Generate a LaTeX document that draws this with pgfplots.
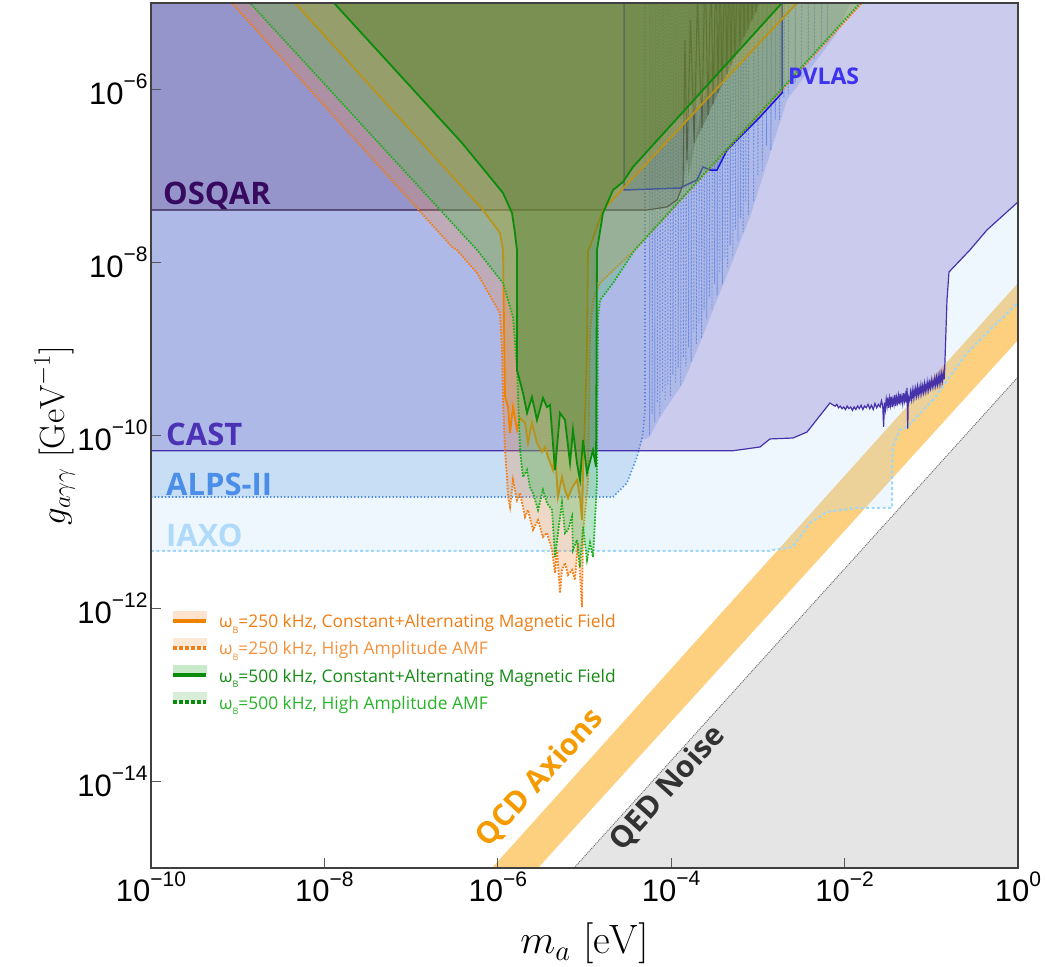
\RequirePackage{fix-cm}
\documentclass[border=0pt]{standalone}
\usepackage{fontspec}
\usepackage{pgfplots}
\usepackage{pgfplotstable}
\pgfplotsset{compat=1.18}
\newfontfamily\tickfont{Liberation Sans}
\newfontfamily\osans{Open Sans}

\definecolor{castc}{RGB}{117,95,199}
\definecolor{castl}{RGB}{70,50,170}
\definecolor{alpsc}{RGB}{111,164,224}
\definecolor{alpsl}{RGB}{74,142,232}
\definecolor{iaxoc}{RGB}{170,215,250}
\definecolor{iaxol}{RGB}{160,215,250}
\definecolor{osqc}{RGB}{60,25,100}
\definecolor{osql}{RGB}{50,30,75}
\definecolor{pvlc}{RGB}{40,60,110}
\definecolor{pvll}{RGB}{20,20,230}
\definecolor{pvlv}{RGB}{60,60,140}
\definecolor{qcdc}{RGB}{253,208,128}
\definecolor{qedc}{RGB}{229,229,229}
\definecolor{odf}{RGB}{240,130,50}
\definecolor{odl}{RGB}{245,125,20}
\definecolor{osf}{RGB}{230,150,20}
\definecolor{osl}{RGB}{240,130,0}
\definecolor{gdf}{RGB}{60,190,80}
\definecolor{gdl}{RGB}{30,175,30}
\definecolor{gsf}{RGB}{60,115,30}
\definecolor{gsl}{RGB}{10,140,10}
\definecolor{tA}{RGB}{240,125,20}
\definecolor{tB}{RGB}{245,145,60}
\definecolor{tC}{RGB}{20,140,20}
\definecolor{tD}{RGB}{40,180,40}
\definecolor{pA}{RGB}{253,226,205}
\definecolor{pB}{RGB}{253,232,214}
\definecolor{pC}{RGB}{200,234,200}
\definecolor{pD}{RGB}{216,238,216}
\definecolor{lOSQAR}{RGB}{55,10,95}
\definecolor{lCAST}{RGB}{75,50,180}
\definecolor{lALPS}{RGB}{74,142,232}
\definecolor{lIAXO}{RGB}{175,218,250}
\definecolor{lPVLAS}{RGB}{60,50,240}
\definecolor{lQCD}{RGB}{245,155,0}
\definecolor{lQED}{RGB}{50,50,50}

\newcommand{\tl}[1]{\mbox{\tickfont\fontsize{31}{31}\selectfont 10\raisebox{0.5em}{\fontsize{21}{21}\selectfont #1}}}
\newcommand{\wb}{ω\raisebox{-0.3em}{\fontsize{9}{9}\selectfont B}}

% all values are log10 of m_a [eV] and g [GeV^-1]
\pgfplotstableread{
x y
-10 -10.176
-3.287 -10.176
-2.976 -10.133
-2.861 -10.040
-2.595 -10.029
-2.434 -9.960
-2.169 -9.624
-2.134 -9.647
-2.11 -9.66
-2.09 -9.64
-2.07 -9.68
-2.05 -9.66
-2.03 -9.69
-2.01 -9.67
-1.99 -9.70
-1.97 -9.66
-1.95 -9.69
-1.93 -9.67
-1.91 -9.71
-1.89 -9.67
-1.87 -9.70
-1.85 -9.66
-1.83 -9.69
-1.81 -9.65
-1.79 -9.70
-1.77 -9.66
-1.75 -9.68
-1.73 -9.64
-1.71 -9.69
-1.69 -9.65
-1.67 -9.70
-1.65 -9.63
-1.63 -9.68
-1.61 -9.64
-1.59 -9.67
-1.575 -9.60
-1.56 -9.66
-1.55 -9.90
-1.54 -9.62
-1.53 -9.70
-1.52 -9.58
-1.51 -9.66
-1.50 -9.56
-1.49 -9.68
-1.48 -9.57
-1.47 -9.65
-1.46 -9.55
-1.45 -9.67
-1.44 -9.58
-1.43 -9.64
-1.42 -9.53
-1.41 -9.66
-1.40 -9.56
-1.39 -9.62
-1.38 -9.54
-1.37 -9.64
-1.36 -9.52
-1.35 -9.61
-1.34 -9.55
-1.33 -9.63
-1.32 -9.51
-1.31 -9.60
-1.30 -9.53
-1.29 -9.62
-1.28 -9.45
-1.272 -9.92
-1.265 -9.55
-1.25 -9.60
-1.24 -9.50
-1.23 -9.58
-1.22 -9.48
-1.21 -9.57
-1.20 -9.47
-1.19 -9.55
-1.18 -9.46
-1.17 -9.54
-1.16 -9.44
-1.15 -9.53
-1.14 -9.45
-1.13 -9.52
-1.12 -9.42
-1.11 -9.51
-1.10 -9.43
-1.09 -9.50
-1.08 -9.40
-1.07 -9.49
-1.06 -9.41
-1.05 -9.48
-1.04 -9.38
-1.03 -9.47
-1.02 -9.39
-1.01 -9.45
-1.00 -9.36
-0.99 -9.44
-0.98 -9.37
-0.97 -9.43
-0.96 -9.34
-0.95 -9.42
-0.94 -9.33
-0.93 -9.41
-0.92 -9.32
-0.91 -9.40
-0.90 -9.30
-0.89 -9.39
-0.88 -9.29
-0.87 -9.37
-0.86 -9.28
-0.85 -9.35
-0.842 -9.127
-0.819 -8.434
-0.796 -8.110
-0.554 -7.855
-0.358 -7.624
0 -7.30
}\cast

\pgfplotstableread{
x y
-10 -11.335
-2.861 -11.335
-2.826 -11.324
-2.595 -11.289
-2.399 -11.012
-2.203 -10.884
-1.857 -10.838
-1.592 -10.838
-1.453 -10.838
-1.453 -10.434
-1.442 -10.133
-1.361 -9.936
-1.280 -9.902
-0.98 -9.59
-0.588 -9.046
-0.288 -8.746
0 -8.468
}\iaxo

\pgfplotstableread{
x y
-10 -10.711
-4.671 -10.711
-4.510 -10.549
-4.394 -10.249
-4.33 -10.05
-4.25 -10.02
-4.129 -9.786
-3.864 -9.393
-3.668 -8.931
-3.472 -8.434
-3.287 -7.971
-3.091 -7.474
-2.664 -6.121
-2.088 -5.347
-1.938 -5.0
}\alps

\pgfplotstableread{
x y
-10 -10.711
-4.671 -10.711
-4.510 -10.549
-4.394 -10.249
-4.33 -10.0
-4.302 -9.7
-4.302 -4.5
}\alpsline

\pgfplotstableread{
x y
-4.25 -4.5
-4.25 -10.00
-4.238 -4.5
-4.22 -4.5
-4.22 -9.75
-4.208 -4.5
-4.19 -4.5
-4.19 -9.85
-4.178 -4.5
-4.16 -4.5
-4.16 -9.62
-4.148 -4.5
-4.13 -4.5
-4.13 -9.78
-4.118 -4.5
-4.10 -4.5
-4.10 -9.50
-4.088 -4.5
-4.07 -4.5
-4.07 -9.60
-4.058 -4.5
-4.04 -4.5
-4.04 -9.42
-4.028 -4.5
-4.01 -4.5
-4.01 -9.55
-3.998 -4.5
-3.98 -4.5
-3.98 -9.30
-3.968 -4.5
-3.95 -4.5
-3.95 -9.40
-3.938 -4.5
-3.92 -4.5
-3.92 -9.22
-3.908 -4.5
-3.89 -4.5
-3.89 -9.43
-3.878 -4.5
-3.86 -4.5
-3.86 -9.10
-3.848 -4.5
-3.83 -4.5
-3.83 -9.20
-3.818 -4.5
-3.80 -4.5
-3.80 -8.98
-3.788 -4.5
-3.77 -4.5
-3.77 -9.15
-3.758 -4.5
-3.74 -4.5
-3.74 -8.80
-3.728 -4.5
-3.71 -4.5
-3.71 -8.95
-3.698 -4.5
-3.68 -4.5
-3.68 -8.70
-3.668 -4.5
-3.65 -4.5
-3.65 -8.88
-3.638 -4.5
-3.62 -4.5
-3.62 -8.55
-3.608 -4.5
-3.59 -4.5
-3.59 -8.65
-3.578 -4.5
-3.56 -4.5
-3.56 -8.40
-3.548 -4.5
-3.53 -4.5
-3.53 -8.55
-3.518 -4.5
-3.50 -4.5
-3.50 -8.25
-3.488 -4.5
-3.47 -4.5
-3.47 -8.38
-3.458 -4.5
-3.44 -4.5
-3.44 -8.12
-3.428 -4.5
-3.41 -4.5
-3.41 -8.25
-3.398 -4.5
-3.38 -4.5
-3.38 -7.95
-3.368 -4.5
-3.35 -4.5
-3.35 -8.05
-3.338 -4.5
-3.32 -4.5
-3.32 -7.80
-3.308 -4.5
-3.29 -4.5
-3.29 -7.95
-3.278 -4.5
-3.26 -4.5
-3.26 -7.62
-3.248 -4.5
-3.23 -4.5
-3.23 -7.75
-3.218 -4.5
-3.20 -4.5
-3.20 -7.48
-3.188 -4.5
-3.17 -4.5
-3.17 -7.65
-3.158 -4.5
-3.14 -4.5
-3.14 -7.30
-3.128 -4.5
-3.11 -4.5
-3.11 -7.45
-3.098 -4.5
-3.05 -4.5
-3.05 -7.30
-3.038 -4.5
-3.00 -4.5
-3.00 -7.00
-2.988 -4.5
-2.95 -4.5
-2.95 -6.95
-2.938 -4.5
-2.90 -4.5
-2.90 -6.65
-2.888 -4.5
-2.85 -4.5
-2.85 -6.70
-2.838 -4.5
-2.80 -4.5
-2.80 -6.35
-2.788 -4.5
-2.75 -4.5
-2.75 -6.35
-2.738 -4.5
-2.70 -4.5
-2.70 -6.10
-2.688 -4.5
-2.65 -4.5
-2.65 -6.05
-2.638 -4.5
-2.57 -4.5
-2.57 -5.92
-2.558 -4.5
-2.50 -4.5
-2.50 -5.85
-2.488 -4.5
-2.42 -4.5
-2.42 -5.70
-2.408 -4.5
-2.35 -4.5
-2.35 -5.65
-2.338 -4.5
-2.27 -4.5
-2.27 -5.50
-2.258 -4.5
-2.20 -4.5
-2.20 -5.45
-2.188 -4.5
}\streaks

\pgfplotstableread{
x y
-10 -7.393
-4.279 -7.393
-4.048 -7.358
-3.933 -7.277
-3.864 -7.104
-3.841 -5.428
-3.818 -6.815
-3.777 -5.197
-3.735 -6.618
-3.697 -4.965
-3.645 -6.445
-3.610 -4.5
-3.575 -6.295
-3.541 -4.5
-3.518 -6.168
-3.483 -4.5
-3.460 -6.040
-3.437 -4.5
-3.414 -5.948
-3.379 -4.5
-3.356 -5.821
-3.333 -4.5
-3.310 -5.717
-3.287 -4.5
-3.264 -5.624
-3.229 -4.5
-3.206 -5.497
-3.183 -4.5
-3.160 -5.393
-3.137 -4.5
-3.114 -5.301
-3.091 -4.5
-3.068 -5.197
-3.045 -4.5
-3.022 -5.104
-2.999 -4.5
}\osqar

\pgfplotstableread{
x y
-10 -7.393
-4.279 -7.393
-4.048 -7.358
-3.933 -7.277
-3.864 -7.104
-3.818 -6.815
-3.735 -6.618
-3.645 -6.445
-3.575 -6.295
-3.518 -6.168
-3.460 -6.040
-3.414 -5.948
-3.356 -5.821
-3.310 -5.717
-3.264 -5.624
-3.206 -5.497
-3.160 -5.393
-3.114 -5.301
-3.068 -5.197
-3.022 -5.104
-2.976 -5.0
-2.976 -4
-10 -4
}\osqarfill

\pgfplotstableread{
x y
-3.80 -7.00
-3.403 -5.0
-2.976 -5.0
-3.022 -5.104
-3.068 -5.197
-3.114 -5.301
-3.160 -5.393
-3.206 -5.497
-3.264 -5.624
-3.310 -5.717
-3.356 -5.821
-3.414 -5.948
-3.460 -6.040
-3.518 -6.168
-3.575 -6.295
-3.645 -6.445
-3.735 -6.618
-3.818 -6.815
}\osqardense

\pgfplotstableread{
x y
-4.544 -4.5
-4.544 -7.162
-3.898 -7.139
-3.702 -7.046
-3.633 -6.896
-3.552 -6.931
-3.472 -6.931
-3.356 -6.699
-3.241 -6.584
-3.126 -6.468
-2.976 -6.318
-2.722 -6.040
-2.722 -4.5
}\pvlas

\pgfplotstableread{
x y
-9.266 -4.778
-9.066 -5.0
-6.517 -7.832
-6.471 -7.855
-6.240 -8.121
-5.975 -8.584
-5.952 -9.012
-5.940 -9.590
-5.917 -10.168
-5.894 -10.480
-5.882 -10.711
-5.859 -10.827
-5.825 -10.514
-5.779 -10.746
-5.744 -10.665
-5.686 -10.942
-5.652 -10.861
-5.594 -11.092
-5.536 -10.977
-5.479 -11.173
-5.433 -11.127
-5.375 -11.324
-5.340 -11.590
-5.317 -11.324
-5.283 -11.821
-5.260 -11.555
-5.225 -11.474
-5.190 -11.613
-5.144 -11.555
-5.110 -11.671
-5.075 -11.243
-5.029 -11.983
-5.017 -11.127
-4.960 -10.549
-4.937 -8.815
-4.902 -8.434
-4.821 -8.237
-4.42 -7.855
-1.80 -5.0
-1.58 -4.756
}\odat

\pgfplotstableread{
x y
-8.539 -4.779
-8.339 -5.0
-6.171 -7.393
-5.975 -7.659
-5.940 -7.855
-5.917 -9.555
-5.882 -9.671
-5.859 -9.971
-5.825 -9.671
-5.779 -9.936
-5.744 -9.798
-5.686 -9.855
-5.652 -10.087
-5.606 -9.855
-5.548 -10.087
-5.490 -10.191
-5.456 -10.133
-5.421 -10.249
-5.363 -10.399
-5.340 -10.202
-5.306 -10.711
-5.260 -10.480
-5.225 -10.630
-5.190 -10.723
-5.144 -10.607
-5.087 -10.514
-5.052 -10.711
-5.029 -10.977
-5.017 -10.434
-4.994 -9.786
-4.971 -9.012
-4.960 -7.855
-4.937 -7.821
-4.787 -7.393
-2.549 -5.0
-2.349 -4.786
}\osdat

\pgfplotstableread{
x y
-9.058 -4.782
-8.858 -5.0
-6.240 -7.855
-5.940 -8.237
-5.825 -8.630
-5.779 -9.208
-5.744 -10.168
-5.709 -10.480
-5.663 -10.399
-5.629 -10.595
-5.594 -10.665
-5.536 -10.861
-5.479 -10.630
-5.433 -10.780
-5.375 -10.861
-5.340 -11.405
-5.306 -11.127
-5.260 -10.780
-5.225 -11.127
-5.190 -11.092
-5.144 -10.942
-5.133 -11.324
-5.087 -11.208
-5.052 -11.520
-5.017 -11.058
-4.971 -11.439
-4.937 -11.243
-4.902 -11.405
-4.856 -10.549
-4.844 -8.630
-4.821 -8.434
-4.671 -8.237
-4.42 -7.855
-1.822 -5.0
-1.60 -4.756
}\gddat

\pgfplotstableread{
x y
-8.089 -4.781
-7.889 -5.0
-6.413 -6.618
-6.090 -7.012
-5.940 -7.197
-5.836 -7.428
-5.802 -7.659
-5.779 -7.855
-5.779 -9.243
-5.709 -9.509
-5.663 -9.740
-5.606 -9.555
-5.548 -9.821
-5.479 -9.566
-5.433 -9.671
-5.398 -9.647
-5.340 -10.399
-5.283 -9.740
-5.225 -9.821
-5.167 -10.318
-5.133 -9.936
-5.087 -10.318
-5.052 -10.514
-5.017 -10.052
-4.971 -10.434
-4.902 -10.168
-4.867 -10.364
-4.856 -7.855
-4.787 -7.428
-4.671 -7.162
-4.556 -7.069
-4.441 -6.896
-2.722 -5.0
-2.5 -4.755
}\gsdat

\begin{document}
\begin{tikzpicture}
\path[use as bounding box] (-151pt,-98pt) rectangle (895pt,868pt);
\begin{axis}[
    at={(0,0)}, anchor=south west,
    scale only axis, width=867pt, height=865pt,
    xmin=-10, xmax=0, ymin=-15, ymax=-5,
    xtick={-10,-8,-6,-4,-2,0},
    xticklabels={\tl{−10},\tl{−8},\tl{−6},\tl{−4},\tl{−2},\tl{0}},
    ytick={-14,-12,-10,-8,-6},
    yticklabels={\tl{−14},\tl{−12},\tl{−10},\tl{−8},\tl{−6}},
    xtick pos=bottom, ytick pos=left,
    tick align=inside, major tick length=10pt,
    tick style={line width=1pt, black!65},
    axis line style={line width=1.3pt, black!75},
    axis on top,
    xlabel={$m_a\ [\mathrm{eV}]$},
    ylabel={$g_{a\gamma\gamma}\ [\mathrm{GeV}^{-1}]$},
    label style={inner sep=0pt},
    xlabel style={font=\fontsize{41}{41}\selectfont, at={(axis description cs:0.5,0)}, anchor=north, yshift=-55pt},
    ylabel style={font=\fontsize{35}{35}\selectfont, at={(axis description cs:0,0.5)}, anchor=south, yshift=76pt},
    legend style={at={(axis cs:-9.77,-12.025)}, anchor=north west, draw=none,
        fill=none, font=\osans\fontsize{17.4}{21}\selectfont, row sep=6.5pt,
        inner sep=0pt, /tikz/every odd column/.append style={column sep=9pt}},
    legend cell align=left,
]
% QED noise
\addplot[forget plot, fill=qedc, draw=none] coordinates {(-5.121,-15) (0,-9.324) (0,-15)} -- cycle;
\addplot[forget plot, densely dotted, black!55, line width=1pt] coordinates {(-5.121,-15) (0,-9.324)};
% QCD axion band
\addplot[forget plot, fill=qcdc, draw=none] coordinates {(-6.067,-15) (0,-8.237) (0,-8.896) (-5.536,-15)} -- cycle;
% IAXO
\addplot[forget plot, fill=iaxoc, fill opacity=0.2, draw=none] table {\iaxo} |- (-10,-4) -- cycle;
\addplot[forget plot, draw=iaxol, line width=2pt, dash pattern=on 3pt off 2.5pt] table {\iaxo};
% ALPS-II
\addplot[forget plot, fill=alpsc, fill opacity=0.3, draw=none] table {\alps} |- (-10,-4) -- cycle;
\addplot[forget plot, draw=alpsl, line width=1.6pt, dash pattern=on 1.3pt off 2.2pt] table {\alpsline};
\addplot[forget plot, draw=alpsl, draw opacity=0.75, line width=0.9pt, dash pattern=on 1.5pt off 2pt] table {\streaks};
% CAST
\addplot[forget plot, fill=castc, fill opacity=0.29, draw=none] table {\cast} |- (-10,-4) -- cycle;
\addplot[forget plot, draw=castl, line width=1.2pt] table {\cast};
% OSQAR
\addplot[forget plot, fill=osqc, fill opacity=0.22, draw=none] table {\osqarfill} -- cycle;
\addplot[forget plot, fill=black, fill opacity=0.22, draw=none] table {\osqardense} -- cycle;
\addplot[forget plot, draw=osql, line width=1.1pt] table {\osqar};
% PVLAS
\addplot[forget plot, fill=pvlc, fill opacity=0.18, draw=none] table {\pvlas} -- cycle;
\addplot[forget plot, draw=pvlv, line width=0.8pt] coordinates {(-4.544,-4.5) (-4.544,-7.162)};
\addplot[forget plot, draw=pvll, line width=1.5pt] table {\pvlas};
% predictions
\addplot[forget plot, fill=odf, fill opacity=0.26, draw=none] table {\odat} -- cycle;
\addplot[forget plot, draw=odl, line width=1.8pt, dash pattern=on 1.6pt off 1.4pt] table {\odat};
\addplot[forget plot, fill=osf, fill opacity=0.3, draw=none] table {\osdat} -- cycle;
\addplot[forget plot, draw=osl, line width=1.8pt] table {\osdat};
\addplot[forget plot, fill=gdf, fill opacity=0.3, draw=none] table {\gddat} -- cycle;
\addplot[forget plot, draw=gdl, line width=1.8pt, dash pattern=on 1.6pt off 1.4pt] table {\gddat};
\addplot[forget plot, fill=gsf, fill opacity=0.32, draw=none] table {\gsdat} -- cycle;
\addplot[forget plot, draw=gsl, line width=1.8pt] table {\gsdat};
% labels
\node[anchor=base west, text=lOSQAR, font=\osans\bfseries\fontsize{31}{31}\selectfont, inner sep=0pt] at (axis cs:-9.862,-7.335) {OSQAR};
\node[anchor=base west, text=lCAST, font=\osans\bfseries\fontsize{31}{31}\selectfont, inner sep=0pt] at (axis cs:-9.827,-10.121) {CAST};
\node[anchor=base west, text=lALPS, font=\osans\bfseries\fontsize{31}{31}\selectfont, inner sep=0pt] at (axis cs:-9.827,-10.688) {ALPS-II};
\node[anchor=base west, text=lIAXO, font=\osans\bfseries\fontsize{31}{31}\selectfont, inner sep=0pt] at (axis cs:-9.827,-11.289) {IAXO};
\node[anchor=base west, text=lPVLAS, font=\osans\bfseries\fontsize{23}{23}\selectfont, inner sep=0pt] at (axis cs:-2.653,-5.948) {PVLAS};
\node[rotate=48, text=lQCD, font=\osans\bfseries\fontsize{30}{30}\selectfont, inner sep=0pt] at (axis cs:-5.51,-13.96) {QCD Axions};
\node[rotate=48, text=lQED, font=\osans\bfseries\fontsize{30}{30}\selectfont, inner sep=0pt] at (axis cs:-4.04,-14.08) {QED Noise};
% legend
\addlegendimage{legend image code/.code={\fill[pA] (0pt,3pt) rectangle (33pt,11pt); \draw[osl, line width=4pt] (0pt,1pt) -- (33pt,1pt);}}
\addlegendentry{\textcolor{tA}{\wb=250 kHz, Constant+Alternating Magnetic Field}}
\addlegendimage{legend image code/.code={\fill[pB] (0pt,3pt) rectangle (33pt,11pt); \draw[odl, line width=4pt, dash pattern=on 4pt off 2pt] (0pt,1pt) -- (33pt,1pt);}}
\addlegendentry{\textcolor{tB}{\wb=250 kHz, High Amplitude AMF}}
\addlegendimage{legend image code/.code={\fill[pC] (0pt,3pt) rectangle (33pt,11pt); \draw[gsl, line width=4pt] (0pt,1pt) -- (33pt,1pt);}}
\addlegendentry{\textcolor{tC}{\wb=500 kHz, Constant+Alternating Magnetic Field}}
\addlegendimage{legend image code/.code={\fill[pD] (0pt,3pt) rectangle (33pt,11pt); \draw[gsl, line width=4pt, dash pattern=on 4pt off 2pt] (0pt,1pt) -- (33pt,1pt);}}
\addlegendentry{\textcolor{tD}{\wb=500 kHz, High Amplitude AMF}}
\end{axis}
\end{tikzpicture}
\end{document}
